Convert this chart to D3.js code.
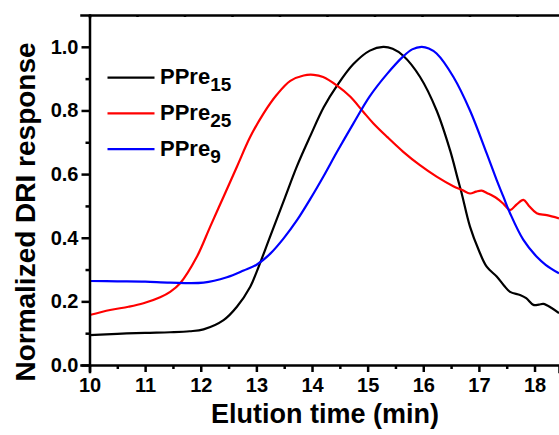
<!DOCTYPE html>
<html>
<head>
<meta charset="utf-8">
<script src="https://cdn.jsdelivr.net/npm/d3@7"></script>
<style>
  body { margin: 0; background: #fff; }
  svg { display: block; font-family: "Liberation Sans", Arial, sans-serif; font-weight: bold; }
</style>
</head>
<body>
<div id="chart"></div>
<script>
// GPC traces, normalized DRI response vs elution time

const seriesNames = ['PPre15', 'PPre25', 'PPre9'];
const seriesColors = ['#000000', '#ff0000', '#0000ff'];
const legendBase = ['PPre', 'PPre', 'PPre'];
const legendSub = ['15', '25', '9'];

const xTicks = [10, 11, 12, 13, 14, 15, 16, 17, 18];
const yTicks = [0.0, 0.2, 0.4, 0.6, 0.8, 1.0];

// PPre15 (black)
const timeA = [10.0, 10.5, 11.0, 11.45, 11.8, 12.05, 12.41, 12.65, 12.89, 13.01, 13.25, 13.49, 13.73, 13.97,
  14.21, 14.45, 14.74, 15.04, 15.28, 15.45, 15.64, 15.94, 16.24, 16.48, 16.62, 16.69, 16.84, 17.0,
  17.14, 17.32, 17.45, 17.56, 17.74, 17.85, 17.98, 18.08, 18.16, 18.3, 18.44];
const valA = [0.094, 0.098, 0.101, 0.103, 0.106, 0.112, 0.141, 0.183, 0.246, 0.295, 0.405, 0.515, 0.625, 0.72,
  0.81, 0.878, 0.945, 0.988, 1.0, 0.994, 0.972, 0.906, 0.80, 0.676, 0.585, 0.54, 0.435, 0.36,
  0.309, 0.278, 0.25, 0.23, 0.22, 0.21, 0.189, 0.19, 0.192, 0.18, 0.163];

// PPre25 (red)
const timeB = [10.0, 10.37, 10.7, 10.97, 11.27, 11.45, 11.63, 11.93, 12.17, 12.41, 12.65, 12.89, 13.13, 13.37,
  13.61, 13.85, 14.03, 14.2, 14.45, 14.69, 14.92, 15.1, 15.35, 15.64, 15.94, 16.24, 16.54, 16.7,
  16.84, 16.95, 17.05, 17.15, 17.32, 17.45, 17.56, 17.68, 17.8, 17.9, 18.04, 18.22, 18.44];
const valB = [0.157, 0.173, 0.183, 0.194, 0.213, 0.23, 0.257, 0.34, 0.435, 0.529, 0.623, 0.717, 0.791, 0.85,
  0.893, 0.91, 0.912, 0.905, 0.878, 0.843, 0.796, 0.76, 0.717, 0.67, 0.628, 0.592, 0.562, 0.55,
  0.539, 0.545, 0.548, 0.54, 0.524, 0.505, 0.487, 0.505, 0.519, 0.50, 0.477, 0.471, 0.461];

// PPre9 (blue)
const timeC = [10.0, 10.5, 11.0, 11.45, 12.05, 12.47, 12.77, 13.01, 13.25, 13.49, 13.73, 13.97, 14.21, 14.45,
  14.74, 15.04, 15.35, 15.64, 15.8, 15.97, 16.1, 16.24, 16.54, 16.84, 17.14, 17.32, 17.44,
  17.56, 17.8, 18.04, 18.2, 18.44];
const valC = [0.264, 0.263, 0.262, 0.259, 0.259, 0.276, 0.297, 0.316, 0.35, 0.398, 0.455, 0.522, 0.594, 0.67,
  0.758, 0.845, 0.915, 0.97, 0.992, 1.0, 0.995, 0.979, 0.906, 0.80, 0.665, 0.581, 0.529,
  0.477, 0.393, 0.34, 0.315, 0.288];

const width = 559;
const height = 435;
const margin = { top: 15, right: 0, bottom: 70, left: 89.5 };

const svg = d3.select('#chart').append('svg')
  .attr('width', width)
  .attr('height', height);

const x = d3.scaleLinear().domain([10, 18.44]).range([margin.left, width]);
const y = d3.scaleLinear().domain([0, 1.1]).range([height - margin.bottom, margin.top]);

// Clip for curves
svg.append('clipPath').attr('id', 'plotClip')
  .append('rect')
  .attr('x', margin.left)
  .attr('y', margin.top)
  .attr('width', width - margin.left)
  .attr('height', height - margin.bottom - margin.top);

const series = [
  { t: timeA, v: valA },
  { t: timeB, v: valB },
  { t: timeC, v: valC }
];

const line = d3.line()
  .x(d => x(d[0]))
  .y(d => y(d[1]))
  .curve(d3.curveCatmullRom.alpha(0.5));

const curves = svg.append('g').attr('clip-path', 'url(#plotClip)');
series.forEach((s, i) => {
  curves.append('path')
    .datum(s.t.map((t, j) => [t, s.v[j]]))
    .attr('fill', 'none')
    .attr('stroke', seriesColors[i])
    .attr('stroke-width', 2.2)
    .attr('stroke-linejoin', 'round')
    .attr('d', line);
});

// Axes
const axisStroke = 2.5;

const xMinor = d3.range(10.5, 18.44, 1);
const xAxis = svg.append('g')
  .attr('transform', `translate(0, ${y(0)})`)
  .call(d3.axisBottom(x).tickValues(xTicks).tickFormat(d3.format('d')).tickSize(7).tickPadding(6));
svg.append('g')
  .attr('transform', `translate(0, ${y(0)})`)
  .call(d3.axisBottom(x).tickValues(xMinor).tickFormat('').tickSize(4))
  .call(g => g.select('.domain').remove());

const yMinor = [0.1, 0.3, 0.5, 0.7, 0.9];
const yAxis = svg.append('g')
  .attr('transform', `translate(${margin.left}, 0)`)
  .call(d3.axisLeft(y).tickValues(yTicks).tickFormat(d3.format('.1f')).tickSize(8).tickPadding(3));
svg.append('g')
  .attr('transform', `translate(${margin.left}, 0)`)
  .call(d3.axisLeft(y).tickValues(yMinor).tickFormat('').tickSize(4))
  .call(g => g.select('.domain').remove());

// Top frame with small inward ticks
const xTop = d3.scaleLinear().domain([0, 10]).range([margin.left, margin.left + 475]);
svg.append('g')
  .attr('transform', `translate(0, ${margin.top})`)
  .call(d3.axisBottom(xTop).ticks(10).tickFormat('').tickSize(2));

svg.selectAll('.domain, .tick line')
  .attr('stroke', '#000')
  .attr('stroke-width', axisStroke);
svg.selectAll('.domain').attr('stroke-linecap', 'square');

xAxis.selectAll('.tick text')
  .style('font-size', '20px')
  .style('font-weight', 'bold')
  .style('font-family', '"Liberation Sans", Arial, sans-serif')
  .attr('fill', '#000');
yAxis.selectAll('.tick text')
  .style('font-size', '20px')
  .style('font-weight', 'bold')
  .style('font-family', '"Liberation Sans", Arial, sans-serif')
  .attr('fill', '#000');

// Axis titles
svg.append('text')
  .attr('x', 325)
  .attr('y', 423)
  .attr('text-anchor', 'middle')
  .style('font-size', '27px')
  .text('Elution time (min)');

svg.append('text')
  .attr('transform', 'translate(35, 212) rotate(-90)')
  .attr('text-anchor', 'middle')
  .style('font-size', '28px')
  .text('Normalized DRI response');

// Legend
const legend = svg.append('g').attr('transform', 'translate(107.5, 77.7)');
seriesNames.forEach((name, i) => {
  const item = legend.append('g').attr('transform', `translate(0, ${i * 35.7})`);
  item.append('line')
    .attr('x1', 0).attr('x2', 47)
    .attr('y1', 0).attr('y2', 0)
    .attr('stroke', seriesColors[i])
    .attr('stroke-width', 2.2);
  const label = item.append('text')
    .attr('x', 52.5)
    .attr('y', 6.6)
    .style('font-size', '22px');
  label.append('tspan').text(legendBase[i]);
  label.append('tspan')
    .attr('dy', 7)
    .style('font-size', '19px')
    .text(legendSub[i]);
});
</script>
</body>
</html>
